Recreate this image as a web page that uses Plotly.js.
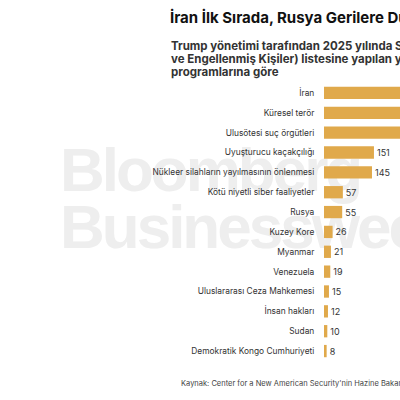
<!DOCTYPE html>
<html><head><meta charset="utf-8">
<script src="https://cdn.plot.ly/plotly-3.0.1.min.js"></script>
<style>
html,body{margin:0;padding:0;width:400px;height:400px;overflow:hidden;background:#fff;}
#wm{position:absolute;left:60px;top:141px;font-family:"Liberation Sans",Arial,sans-serif;font-weight:bold;font-size:62px;line-height:57px;color:#eeeeee;letter-spacing:-3px;z-index:0;white-space:nowrap;}
#chart{position:absolute;left:0;top:0;z-index:1;}
</style></head>
<body>
<div id="wm">Bloomberg<br>Businessweek</div>
<div id="chart"></div>
<script>
const categories = ["İran","Küresel terör","Ulusötesi suç örgütleri","Uyuşturucu kaçakçılığı","Nükleer silahların yayılmasının önlenmesi","Kötü niyetli siber faaliyetler","Rusya","Kuzey Kore","Myanmar","Venezuela","Uluslararası Ceza Mahkemesi","İnsan hakları","Sudan","Demokratik Kongo Cumhuriyeti"];
const values = [480, 390, 240, 151, 145, 57, 55, 26, 21, 19, 15, 12, 10, 8];
const titleText = "<b>İran İlk Sırada, Rusya Gerilere Düştü</b>";
const subtitleLines = [
  "<b>Trump yönetimi tarafından 2025 yılında SDN (Özel Olarak Belirlenmiş Vatandaşlar</b>",
  "<b>ve Engellenmiş Kişiler) listesine yapılan yeni eklemeler, yaptırım</b>",
  "<b>programlarına göre</b>"
];
const sourceText = "Kaynak: Center for a New American Security'nin Hazine Bakanlığı verileri analizi";

const W = 640, H = 400, L = 324, T = 83, B = 39, R = 0;
const pw = W - L - R, ph = H - T - B;
const px = x => (x - L) / pw;
const py = y => (H - B - y) / ph;

const trace = {
  type: "bar", orientation: "h",
  y: categories, x: values,
  marker: {color: "#e0a94b"},
  text: values.map(String), textposition: "outside",
  textfont: {family: "Inter, sans-serif", size: 9, color: "#333"},
  cliponaxis: false, hoverinfo: "none"
};
const subY = [46, 59, 72];
const annotations = subtitleLines.map((t, i) => ({
  text: t, xref: "paper", yref: "paper", x: px(169), y: py(subY[i]), xanchor: "left", yanchor: "middle",
  align: "left", showarrow: false, font: {family: "Inter, sans-serif", size: 11.5, color: "#333"}
}));
annotations.push({text: sourceText, xref: "paper", yref: "paper", x: px(179), y: py(383), xanchor: "left", yanchor: "middle",
  align: "left", showarrow: false, font: {family: "Inter, sans-serif", size: 7.5, color: "#444"}});

const layout = {
  width: W, height: H,
  margin: {l: L, r: R, t: T, b: B, pad: 0},
  paper_bgcolor: "rgba(0,0,0,0)", plot_bgcolor: "rgba(0,0,0,0)",
  bargap: 0.38,
  showlegend: false,
  xaxis: {range: [0, 955], visible: false, fixedrange: true},
  yaxis: {autorange: "reversed", showgrid: false, showline: false, zeroline: false,
          ticks: "outside", ticklen: 7, tickcolor: "rgba(0,0,0,0)",
          tickfont: {family: "Inter, sans-serif", size: 8.4, color: "#333"}},
  title: {text: titleText, xref: "container", yref: "container", x: 170 / W, y: 1 - 18 / H,
          xanchor: "left", yanchor: "middle",
          font: {family: "Inter, sans-serif", size: 15, color: "#111"}},
  annotations: annotations
};
Plotly.newPlot("chart", [trace], layout, {displayModeBar: false, staticPlot: true});
</script>
</body></html>
